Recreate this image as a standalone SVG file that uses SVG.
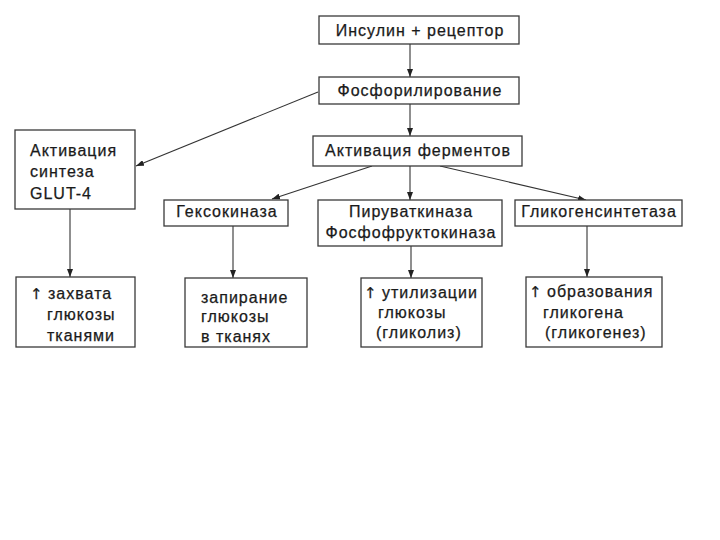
<svg xmlns="http://www.w3.org/2000/svg" width="720" height="540" viewBox="0 0 720 540">
<defs>
<style>
.box{fill:#fff;stroke:#3a3a3a;stroke-width:1.3}
.t{font-family:"Liberation Sans",Arial,sans-serif;font-size:16px;letter-spacing:1px;fill:#1a1a1a;stroke:#1a1a1a;stroke-width:0.25}
.c{text-anchor:middle}
.up{font-family:"DejaVu Sans",sans-serif;font-size:15px;letter-spacing:0}
.ln{stroke:#333;stroke-width:1.1;fill:none;marker-end:url(#ah)}
</style>
<marker id="ah" markerUnits="userSpaceOnUse" markerWidth="8" markerHeight="6" refX="8" refY="3" orient="auto">
<path d="M0,0 L8,3 L0,6 z" fill="#222"/>
</marker>
</defs>
<rect width="720" height="540" fill="#fff"/>
<g id="connectors">
<line class="ln" x1="410" y1="44" x2="410" y2="77"/>
<line class="ln" x1="410" y1="104" x2="410" y2="136"/>
<line class="ln" x1="318" y1="92" x2="136" y2="166"/>
<line class="ln" x1="372" y1="166" x2="272" y2="199"/>
<line class="ln" x1="410" y1="166" x2="410" y2="200"/>
<line class="ln" x1="440" y1="166" x2="586" y2="200"/>
<line class="ln" x1="70" y1="209" x2="70" y2="277"/>
<line class="ln" x1="233" y1="226" x2="233" y2="278"/>
<line class="ln" x1="411" y1="246" x2="411" y2="278"/>
<line class="ln" x1="587" y1="226" x2="587" y2="277"/>
</g>
<g id="n1"><rect class="box" x="319" y="16" width="200" height="28"/><text class="t c" x="420" y="36">Инсулин + рецептор</text></g>
<g id="n2"><rect class="box" x="319" y="77" width="200" height="27"/><text class="t c" x="420" y="96">Фосфорилирование</text></g>
<g id="n3"><rect class="box" x="313" y="136" width="209" height="30"/><text class="t c" x="418" y="156">Активация ферментов</text></g>
<g id="n4"><rect class="box" x="15" y="130" width="120" height="79"/>
<text class="t" x="30" y="156">Активация</text><text class="t" x="30" y="177">синтеза</text><text class="t" x="30" y="199">GLUT-4</text></g>
<g id="n5"><rect class="box" x="164" y="200" width="124" height="26"/><text class="t c" x="227" y="217">Гексокиназа</text></g>
<g id="n6"><rect class="box" x="318" y="200" width="184" height="46"/>
<text class="t c" x="411" y="217">Пируваткиназа</text><text class="t c" x="411" y="238">Фосфофруктокиназа</text></g>
<g id="n7"><rect class="box" x="515" y="200" width="167" height="26"/><text class="t c" x="599" y="217">Гликогенсинтетаза</text></g>
<g id="n8"><rect class="box" x="16" y="277" width="119" height="70"/>
<text class="t" x="30" y="299"><tspan class="up">↑</tspan> захвата</text><text class="t" x="47" y="320">глюкозы</text><text class="t" x="47" y="341">тканями</text></g>
<g id="n9"><rect class="box" x="185" y="278" width="122" height="69"/>
<text class="t" x="201" y="303">запирание</text><text class="t" x="201" y="322">глюкозы</text><text class="t" x="201" y="342">в тканях</text></g>
<g id="n10"><rect class="box" x="361" y="278" width="121" height="69"/>
<text class="t" x="364" y="298"><tspan class="up">↑</tspan> утилизации</text><text class="t" x="378" y="318">глюкозы</text><text class="t" x="376" y="338">(гликолиз)</text></g>
<g id="n11"><rect class="box" x="526" y="277" width="136" height="70"/>
<text class="t" x="529" y="297"><tspan class="up">↑</tspan> образования</text><text class="t" x="543" y="318">гликогена</text><text class="t" x="545" y="338">(гликогенез)</text></g>
</svg>
